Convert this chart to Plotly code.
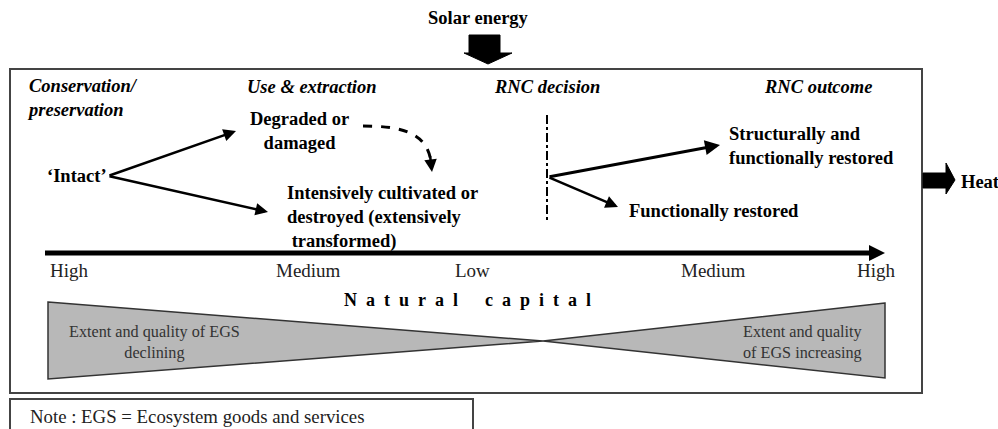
import plotly.graph_objects as go

W, H = 998, 429

# ---- text content ----
header_labels = ["<i><b>Conservation/<br>preservation</b></i>", "<i><b>Use &amp; extraction</b></i>",
                 "<i><b>RNC decision</b></i>", "<i><b>RNC outcome</b></i>"]
state_labels = ["<b>‘Intact’</b>", "<b>Degraded or<br>damaged</b>",
                "<b>Intensively cultivated or<br>destroyed (extensively<br> transformed)</b>",
                "<b>Structurally and<br>functionally restored</b>", "<b>Functionally restored</b>"]
scale_labels = ["High", "Medium", "Low", "Medium", "High"]
axis_words = ["Natural", "capital"]
egs_labels = ["Extent and quality of EGS<br>declining", "Extent and quality<br>of EGS increasing"]
flow_labels = ["<b>Solar energy</b>", "<b>Heat</b>"]
note_label = "Note : EGS = Ecosystem goods and services"

# ---- layout positions (pixel space) ----
header_pos = [(25, 98, "left"), (245, 87, "left"), (492, 87, "left"), (762, 87, "left")]
state_pos = [(45, 176, "left"), (299, 131, "center"), (285, 217, "left"), (727, 146, "left"), (627, 211, "left")]
scale_x = [69, 308, 472, 713, 876]
scale_y = 270
egs_pos = [(154, 342, "center"), (803, 342, "center")]

SERIF = "Liberation Serif, Times New Roman, serif"

fig = go.Figure()
fig.add_trace(go.Scatter(x=[0, W], y=[0, H], mode="markers", marker=dict(opacity=0), hoverinfo="skip", showlegend=False))

shapes = []
# main box
shapes.append(dict(type="rect", x0=10, y0=69, x1=922, y1=393, line=dict(color="#444", width=2)))
# note box
shapes.append(dict(type="rect", x0=10, y0=399, x1=473, y1=432, line=dict(color="#444", width=2)))
# solar energy block arrow
shapes.append(dict(type="path", path="M 469 35 L 500 35 L 500 53 L 512 53 L 488 64 L 464 53 L 469 53 Z",
                   fillcolor="black", line=dict(color="black", width=1)))
# heat block arrow
shapes.append(dict(type="path", path="M 923 173 L 946 173 L 946 163 L 955 180 L 946 194 L 946 188 L 923 188 Z",
                   fillcolor="black", line=dict(color="black", width=1)))
# bow-tie triangles
shapes.append(dict(type="path", path="M 48 302 L 543 341 L 48 379 Z", fillcolor="#b8b8b8",
                   line=dict(color="#333", width=1.5)))
shapes.append(dict(type="path", path="M 885 303 L 543 341 L 885 378 Z", fillcolor="#b8b8b8",
                   line=dict(color="#333", width=1.5)))
# RNC decision dash-dot line
shapes.append(dict(type="line", x0=547, y0=115, x1=547, y1=221, line=dict(color="black", width=2, dash="dashdot")))
# dashed curved arrow
shapes.append(dict(type="path", path="M 363 126 C 400 126 428 132 431 163", line=dict(color="black", width=3, dash="dash")))
# main axis line
shapes.append(dict(type="line", x0=45, y0=253, x1=872, y1=253, line=dict(color="black", width=5)))

ann = []
def arrow(x0, y0, x1, y1, width=2, size=1.0, head=2):
    ann.append(dict(x=x1, y=y1, ax=x0, ay=y0, xref="x", yref="y", axref="x", ayref="y",
                    showarrow=True, arrowhead=head, arrowsize=size, arrowwidth=width,
                    arrowcolor="black", text=""))

arrow(108, 176, 236, 131, 2.5, 1.0)
arrow(108, 176, 268, 212, 2.5, 1.0)
arrow(430, 155, 432, 172, 2.5, 1.0)
arrow(548, 177, 720, 145, 3, 1.0)
arrow(548, 177, 618, 207, 2.5, 1.0)
arrow(860, 253, 885, 253, 4, 0.8)

def txt(x, y, s, size, anchor="left", color="black", family=SERIF):
    ann.append(dict(x=x, y=y, xref="x", yref="y", text=s, showarrow=False, xanchor=anchor,
                    yanchor="middle", align=anchor, font=dict(family=family, size=size, color=color)))

for s, (x, y, a) in zip(header_labels, header_pos):
    txt(x, y, s, 18.5, a)
for s, (x, y, a) in zip(state_labels, state_pos):
    txt(x, y, s, 18.5, a)
for s, x in zip(scale_labels, scale_x):
    txt(x, scale_y, s, 19, "center", "#222")
sp = "&nbsp;&nbsp;"
axis_title = ("&nbsp;" * 6).join(sp.join(w) for w in axis_words)
txt(467, 300, "<b>" + axis_title + "</b>", 18, "center")
for s, (x, y, a) in zip(egs_labels, egs_pos):
    txt(x, y, s, 16.2, a, "#333")
txt(478, 18, flow_labels[0], 18.5, "center")
txt(959, 182, flow_labels[1], 18.5, "left")
txt(28, 416, note_label, 18.8, "left", "#222")

fig.update_layout(width=W, height=H, margin=dict(l=0, r=0, t=0, b=0),
                  paper_bgcolor="white", plot_bgcolor="white",
                  xaxis=dict(range=[0, W], visible=False, fixedrange=True),
                  yaxis=dict(range=[H, 0], visible=False, fixedrange=True),
                  shapes=shapes, annotations=ann, showlegend=False)
fig.write_html("out.html", config={"displayModeBar": False},
               post_script="document.body.style.margin='0';document.body.style.padding='0';document.body.style.overflow='hidden';")
